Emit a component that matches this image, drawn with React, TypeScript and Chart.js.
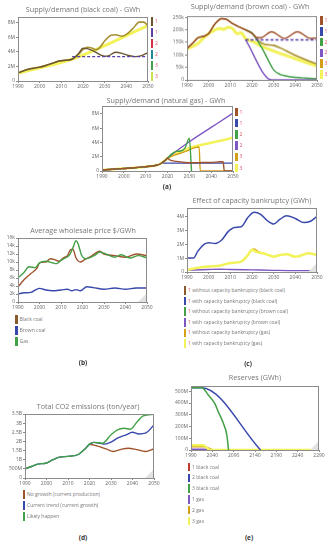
import React, { useEffect, useRef } from "react";
import { Chart, registerables } from "chart.js";
Chart.register(...registerables);

const FONT = "'Open Sans', 'DejaVu Sans', sans-serif";

// ---------------- tick labels ----------------
const yearTicks = [1990, 2000, 2010, 2020, 2030, 2040, 2050];
const reserveYearTicks = [1990, 2040, 2090, 2140, 2190, 2240, 2290];
const blackCoalTicks = [0, 2, 4, 6, 8];
const blackCoalTickLabels = ["0", "2M", "4M", "6M", "8M"];
const brownCoalTicks = [0, 50, 100, 150, 200, 250];
const brownCoalTickLabels = ["0", "50k", "100k", "150k", "200k", "250k"];
const gasTicks = [0, 2, 4, 6, 8];
const gasTickLabels = ["0", "2M", "4M", "6M", "8M"];
const priceTicks = [0, 2, 4, 6, 8, 10, 12, 14, 16];
const priceTickLabels = ["0", "2k", "4k", "6k", "8k", "10k", "12k", "14k", "16k"];
const bankTicks = [0, 1, 2, 3, 4];
const bankTickLabels = ["0", "1M", "2M", "3M", "4M"];
const co2Ticks = [0, 0.5, 1, 1.5, 2, 2.5, 3, 3.5];
const co2TickLabels = ["0", "500M", "1B", "1.5B", "2B", "2.5B", "3B", "3.5B"];
const reserveTicks = [0, 100, 200, 300, 400, 500];
const reserveTickLabels = ["0", "100M", "200M", "300M", "400M", "500M"];

// ---------------- (a) black coal supply/demand, million GWh ----------------
const bcHistYears = [1990, 1993, 1996, 2000, 2003, 2006, 2009, 2012, 2015];
const bcHist = [1.1, 1.45, 1.7, 1.9, 2.15, 2.45, 2.75, 2.85, 3.0];
const bc3Years = [2018, 2020, 2022, 2024, 2026, 2028, 2030, 2033, 2035, 2038, 2040, 2043, 2046, 2048, 2050];
const bc3 = [3.7, 4.3, 4.65, 4.55, 4.3, 4.7, 5.5, 6.3, 6.35, 6.15, 6.4, 7.2, 8.1, 8.1, 7.6];
const bc1Years = [2018, 2020, 2022, 2025, 2028, 2030, 2032, 2035, 2038, 2041, 2044, 2047, 2050];
const bc1 = [3.8, 4.5, 4.45, 4.1, 3.6, 3.4, 3.5, 3.95, 3.8, 3.5, 3.35, 3.5, 3.9];
const bc1bYears = [2015, 2050];
const bc1b = [3.35, 3.35];
const bc3bYears = [1990, 2015, 2050];
const bc3b = [1.1, 3.0, 7.6];

// ---------------- (a) brown coal supply/demand, thousand GWh ----------------
const brHistYears = [1990, 1993, 1995, 1998, 2000, 2003, 2006, 2008, 2011, 2014, 2017, 2020];
const brHist = [125, 150, 168, 175, 185, 225, 245, 243, 225, 212, 200, 186];
const br3Years = [2023, 2026, 2030, 2033, 2036, 2040, 2045, 2050];
const br3 = [155, 142, 138, 128, 115, 98, 80, 64];
const br1Years = [2022, 2024, 2029, 2035, 2041, 2047, 2050];
const br1 = [170, 168, 192, 166, 192, 166, 168];
const br1bYears = [2017, 2050];
const br1b = [160, 160];
const br3bYears = [1990, 1993, 1995, 1998, 2000, 2003, 2005, 2007, 2009, 2011, 2012, 2013, 2015, 2017, 2020, 2025, 2030, 2035, 2040, 2045, 2050];
const br3b = [125, 135, 145, 170, 185, 200, 205, 202, 210, 205, 195, 185, 188, 165, 155, 132, 115, 100, 85, 70, 55];
const br2Years = [2017, 2020, 2023, 2026, 2028, 2030, 2033, 2036, 2040, 2045, 2050];
const br2 = [200, 188, 150, 105, 70, 40, 22, 15, 10, 7, 5];
const br2bYears = [2017, 2029, 2050];
const br2b = [160, 0, 0];

// ---------------- (a) natural gas supply/demand, million GWh ----------------
const gasHistYears = [1990, 1995, 2000, 2005, 2010, 2013, 2015, 2017, 2019, 2020];
const gasHist = [0.15, 0.25, 0.35, 0.45, 0.6, 0.7, 0.8, 1.05, 1.5, 1.8];
const gas2bYears = [2030, 2040, 2050];
const gas2b = [4.1, 6.1, 8.1];
const gas3bYears = [2050];
const gas3b = [4.7];
const gas2Years = [2022, 2024, 2026, 2028, 2030, 2031];
const gas2 = [2.4, 2.75, 2.8, 3.2, 4.6, 0];
const gas3Years = [2024, 2028, 2031, 2033, 2034.5, 2035, 2050];
const gas3 = [2.3, 2.7, 3.1, 3.3, 3.35, 0, 0];
const gas1Years = [2021, 2024, 2028, 2032, 2036, 2040, 2044, 2045.5, 2046, 2050];
const gas1 = [1.55, 1.35, 1.2, 1.15, 1.2, 1.2, 1.3, 1.3, 0, 0];
const gas1bYears = [2018, 2050];
const gas1b = [1.1, 1.1];

// ---------------- (b) average wholesale price, thousand $/GWh ----------------
const gasPriceYears = [1990, 1993, 1995, 1998, 2000, 2003, 2006, 2008, 2010, 2012, 2014, 2015.5, 2017, 2018, 2019.5, 2021.5, 2024, 2026, 2028, 2030, 2035, 2038, 2042, 2046, 2050];
const gasPrice = [6.0, 7.5, 8.8, 8.6, 9.8, 10.2, 9.8, 9.6, 10.4, 11.0, 11.8, 13.5, 15.3, 14.5, 11.8, 10.8, 11.2, 11.8, 12.5, 12.2, 11.2, 11.8, 11.0, 11.6, 11.0];
const bcPriceYears = [1990, 1993, 1996, 1999, 2000, 2003, 2005, 2007, 2009, 2011, 2013, 2014.5, 2015.5, 2017, 2019, 2021, 2024, 2028, 2030, 2035, 2040, 2045, 2050];
const bcPrice = [3.8, 5.7, 7.1, 8.6, 9.8, 10.0, 10.8, 10.6, 10.2, 11.0, 11.6, 13.1, 13.2, 11.0, 10.0, 10.6, 11.4, 12.7, 12.0, 11.6, 11.2, 12.0, 11.6];
const brPriceYears = [1990, 1993, 1996, 1998, 2000, 2003, 2006, 2010, 2013, 2015, 2017, 2019, 2022, 2025, 2030, 2035, 2040, 2045, 2050];
const brPrice = [2.0, 2.3, 2.4, 3.0, 3.4, 3.0, 2.8, 3.0, 3.2, 2.8, 3.1, 2.8, 3.8, 3.6, 3.2, 3.5, 3.2, 3.5, 3.5];

// ---------------- (c) effect of capacity bankruptcy, million GWh ----------------
const bankBcYears = [1990, 1993, 1995, 1998, 2000, 2003, 2006, 2009, 2012, 2015, 2018, 2021, 2024, 2027, 2030, 2033, 2036, 2040, 2044, 2047, 2050];
const bankBcWith = [1.0, 1.0, 1.5, 2.0, 2.1, 2.05, 2.3, 2.9, 3.2, 3.25, 3.9, 4.3, 4.15, 3.7, 3.45, 3.8, 4.05, 3.85, 3.55, 3.65, 4.0];
const bankGasYears = [1990, 1995, 2000, 2005, 2010, 2015, 2018, 2020, 2022, 2025, 2028, 2030, 2033, 2036, 2040, 2043, 2046, 2050];
const bankGasWith = [0.15, 0.3, 0.4, 0.45, 0.65, 0.75, 1.2, 1.6, 1.45, 1.35, 1.2, 1.1, 1.22, 1.27, 1.1, 1.2, 1.35, 1.22];
const bankGasWithoutYears = [2018, 2020, 2021, 2023, 2025];
const bankGasWithout = [1.2, 1.6, 1.65, 1.45, 1.35];
const bankBrYears = [1990, 2000, 2005, 2010, 2020, 2030, 2040, 2050];
const bankBrWith = [0.12, 0.18, 0.2, 0.18, 0.15, 0.12, 0.1, 0.1];

// ---------------- (d) total CO2 emissions, billion ton/year ----------------
const co2HistYears = [1990, 1993, 1996, 2000, 2003, 2006, 2010, 2013, 2015, 2018, 2020, 2022];
const co2Hist = [0.5, 0.63, 0.76, 0.82, 1.0, 1.14, 1.18, 1.22, 1.3, 1.6, 1.85, 1.95];
const co2NoGrowthYears = [2020, 2022, 2025, 2028, 2031, 2035, 2038, 2042, 2046, 2050];
const co2NoGrowth = [1.85, 1.8, 1.7, 1.58, 1.45, 1.58, 1.63, 1.55, 1.45, 1.6];
const co2TrendYears = [2025, 2027, 2030, 2033, 2037, 2040, 2043, 2046, 2050];
const co2Trend = [1.9, 1.85, 1.96, 2.18, 2.36, 2.5, 2.41, 2.45, 2.9];
const co2LikelyYears = [2026, 2030, 2033, 2036, 2039, 2042, 2045, 2050];
const co2Likely = [1.9, 2.36, 2.63, 2.72, 2.67, 3.05, 3.4, 3.48];

// ---------------- (e) reserves, million GWh ----------------
const resBc3Years = [1990, 2015, 2031, 2046, 2054, 2066, 2074, 2078];
const resBc3 = [530, 530, 466, 395, 325, 226, 127, 0];
const resBc2Years = [1990, 2015, 2153];
const resBc2 = [530, 530, 0];
const resGas1Years = [1990, 2022, 2035];
const resGas1 = [6, 6, 0];
const resGas2Years = [1990, 2020, 2042];
const resGas2 = [28, 28, 0];
const resGas3Years = [1990, 2018, 2035, 2290];
const resGas3 = [40, 40, 0, 0];

// ---------------- colours ----------------
const C = {
  brown: "#a0522d",
  darkBrown: "#6b5530",
  blue: "#3949ab",
  green: "#43a047",
  purple: "#7e57c2",
  indigo: "#5b3fa8",
  orange: "#d4a017",
  olive: "#a89030",
  yellow: "#f2f25a",
  red: "#c0392b",
  crimson: "#d0304a",
  teal: "#1f8a9a",
  lime: "#c8e04a",
};

type Line = { xs: number[]; ys: number[]; color: string; width?: number; dash?: number[] };
type PanelDef = {
  left: number; top: number; right: number; bottom: number; yW: number;
  xMin: number; xMax: number; xTicks: number[];
  yMax: number; yTicks: number[]; yLabels: string[];
  lines: Line[]; corner?: boolean;
};

const pts = (xs: number[], ys: number[]) => xs.map((x, i) => ({ x, y: ys[i] }));

function Panel({ def }: { def: PanelDef }) {
  const ref = useRef<HTMLCanvasElement>(null);
  const padTop = 5, padRight = 8, xH = 10;
  const w = def.right - def.left + def.yW + padRight;
  const h = def.bottom - def.top + padTop + xH;
  useEffect(() => {
    const frame = {
      id: "frame",
      afterDatasetsDraw(chart: any) {
        const { ctx, chartArea: a } = chart;
        ctx.save();
        if (def.corner) {
          ctx.fillStyle = "#e2e2e2";
          ctx.beginPath();
          ctx.moveTo(a.right, a.bottom - 9);
          ctx.lineTo(a.right, a.bottom);
          ctx.lineTo(a.right - 9, a.bottom);
          ctx.closePath();
          ctx.fill();
        }
        ctx.strokeStyle = "#8c8c8c";
        ctx.lineWidth = 1;
        ctx.strokeRect(Math.round(a.left) + 0.5, Math.round(a.top) + 0.5, Math.round(a.right - a.left) - 1, Math.round(a.bottom - a.top));
        ctx.restore();
      },
    };
    const tickFont = { family: FONT, size: 5 };
    const chart = new Chart(ref.current!, {
      type: "line",
      data: {
        datasets: def.lines.slice().reverse().map((l) => ({
          data: pts(l.xs, l.ys),
          borderColor: l.color,
          borderWidth: l.width ?? 1.4,
          borderDash: l.dash ?? [],
          pointRadius: 0,
          fill: false,
          cubicInterpolationMode: "monotone" as const,
        })),
      },
      options: {
        responsive: false,
        animation: false,
        events: [],
        layout: { padding: { top: padTop, right: padRight, left: 0, bottom: 0 } },
        plugins: { legend: { display: false }, tooltip: { enabled: false }, title: { display: false } },
        scales: {
          x: {
            type: "linear",
            min: def.xMin,
            max: def.xMax,
            afterFit: (s: any) => { s.height = xH; },
            afterBuildTicks: (s: any) => { s.ticks = def.xTicks.map((v) => ({ value: v })); },
            ticks: { font: tickFont, color: "#666", padding: 1, maxRotation: 0, autoSkip: false, callback: (v: any) => String(v) },
            grid: { drawOnChartArea: false, drawTicks: true, tickLength: 2, color: "#8c8c8c" },
            border: { display: false },
          },
          y: {
            type: "linear",
            min: 0,
            max: def.yMax,
            afterFit: (s: any) => { s.width = def.yW; },
            afterBuildTicks: (s: any) => { s.ticks = def.yTicks.map((v) => ({ value: v })); },
            ticks: { font: tickFont, color: "#666", padding: 1, autoSkip: false, callback: (_v: any, i: number) => def.yLabels[i] },
            grid: { drawOnChartArea: false, drawTicks: true, tickLength: 2, color: "#8c8c8c" },
            border: { display: false },
          },
        },
      } as any,
      plugins: [frame],
    });
    return () => chart.destroy();
  }, []);
  return (
    <canvas
      ref={ref}
      width={w}
      height={h}
      style={{ position: "absolute", left: def.left - def.yW, top: def.top - padTop, width: w, height: h }}
    />
  );
}

const withHist = (hy: number[], hv: number[], ys: number[], vs: number[]) => ({ xs: [...hy, ...ys], ys: [...hv, ...vs] });

const panels: PanelDef[] = [
  {
    left: 18, top: 17, right: 148, bottom: 81, yW: 16, xMin: 1990, xMax: 2050, xTicks: yearTicks,
    yMax: 8.8, yTicks: blackCoalTicks, yLabels: blackCoalTickLabels,
    lines: [
      { xs: bc3bYears, ys: bc3b, color: C.yellow, width: 3 },
      { ...withHist(bcHistYears, bcHist, bc3Years, bc3), color: C.olive, width: 1.6 },
      { ...withHist(bcHistYears, bcHist, bc1Years, bc1), color: C.darkBrown, width: 1.4 },
      { xs: bc1bYears, ys: bc1b, color: C.indigo, width: 1.4, dash: [3, 2] },
    ],
  },
  {
    left: 187, top: 16, right: 317, bottom: 79.5, yW: 18, xMin: 1990, xMax: 2050, xTicks: yearTicks,
    yMax: 255, yTicks: brownCoalTicks, yLabels: brownCoalTickLabels,
    lines: [
      { xs: br3bYears, ys: br3b, color: C.yellow, width: 3 },
      { ...withHist(brHistYears, brHist, br3Years, br3), color: C.olive, width: 1.6 },
      { xs: br2bYears, ys: br2b, color: C.purple, width: 1.4 },
      { xs: br2Years, ys: br2, color: C.green, width: 1.4 },
      { ...withHist(brHistYears, brHist, br1Years, br1), color: C.brown, width: 1.4 },
      { xs: br1bYears, ys: br1b, color: C.indigo, width: 1.4, dash: [3, 2] },
    ],
  },
  {
    left: 102, top: 106, right: 233, bottom: 171, yW: 16, xMin: 1990, xMax: 2050, xTicks: yearTicks,
    yMax: 9.1, yTicks: gasTicks, yLabels: gasTickLabels,
    lines: [
      { ...withHist(gasHistYears, gasHist, gas3bYears, gas3b), color: C.yellow, width: 2.5 },
      { ...withHist(gasHistYears, gasHist, gas3Years, gas3), color: C.orange, width: 1.4 },
      { ...withHist(gasHistYears, gasHist, gas2bYears, gas2b), color: C.purple, width: 1.4 },
      { ...withHist(gasHistYears, gasHist, gas2Years, gas2), color: C.green, width: 1.4 },
      { xs: gas1bYears, ys: gas1b, color: C.blue, width: 1.4 },
      { ...withHist(gasHistYears, gasHist, gas1Years, gas1), color: C.brown, width: 1.4 },
    ],
  },
  {
    left: 18, top: 237.5, right: 147, bottom: 302, yW: 16, xMin: 1990, xMax: 2050, xTicks: yearTicks,
    yMax: 16, yTicks: priceTicks, yLabels: priceTickLabels, corner: true,
    lines: [
      { xs: brPriceYears, ys: brPrice, color: C.blue, width: 1.4 },
      { xs: bcPriceYears, ys: bcPrice, color: C.brown, width: 1.4 },
      { xs: gasPriceYears, ys: gasPrice, color: C.green, width: 1.4 },
    ],
  },
  {
    left: 186.5, top: 207.5, right: 317, bottom: 272.3, yW: 16, xMin: 1990, xMax: 2050, xTicks: yearTicks,
    yMax: 4.6, yTicks: bankTicks, yLabels: bankTickLabels, corner: true,
    lines: [
      { xs: bankBrYears, ys: bankBrWith, color: C.purple, width: 1.4 },
      { xs: bankGasWithoutYears, ys: bankGasWithout, color: C.orange, width: 1.4 },
      { xs: bankGasYears, ys: bankGasWith, color: C.yellow, width: 2.5 },
      { xs: bankBcYears, ys: bankBcWith, color: C.blue, width: 1.5 },
    ],
  },
  {
    left: 25, top: 414, right: 154, bottom: 478.3, yW: 20, xMin: 1990, xMax: 2050, xTicks: yearTicks,
    yMax: 3.5, yTicks: co2Ticks, yLabels: co2TickLabels, corner: true,
    lines: [
      { xs: co2NoGrowthYears, ys: co2NoGrowth, color: C.brown, width: 1.4 },
      { ...withHist(co2HistYears, co2Hist, co2TrendYears, co2Trend), color: C.blue, width: 1.4 },
      { ...withHist(co2HistYears, co2Hist, co2LikelyYears, co2Likely), color: C.green, width: 1.4 },
    ],
  },
  {
    left: 191, top: 386, right: 319, bottom: 450, yW: 20, xMin: 1990, xMax: 2290, xTicks: reserveYearTicks,
    yMax: 545, yTicks: reserveTicks, yLabels: reserveTickLabels, corner: true,
    lines: [
      { xs: resGas1Years, ys: resGas1, color: C.purple, width: 1.4 },
      { xs: resGas2Years, ys: resGas2, color: C.orange, width: 1.4 },
      { xs: resGas3Years, ys: resGas3, color: C.yellow, width: 2.5 },
      { xs: resBc2Years, ys: resBc2, color: C.blue, width: 1.5 },
      { xs: resBc3Years, ys: resBc3, color: C.green, width: 1.5 },
    ],
  },
];

// ---------------- titles, legends, captions ----------------
const titles: [string, number, number][] = [
  ["Supply/demand (black coal) - GWh", 83, 10],
  ["Supply/demand (brown coal) - GWh", 250, 7],
  ["Supply/demand (natural gas) - GWh", 166, 101],
  ["Average wholesale price $/GWh", 83, 231],
  ["Effect of capacity bankruptcy (GWh)", 252, 201],
  ["Total CO2 emissions (ton/year)", 88, 406.5],
  ["Reserves (GWh)", 255, 378],
];
const captions: [string, number, number][] = [
  ["(a)", 167, 187],
  ["(b)", 83, 362.5],
  ["(c)", 248, 364],
  ["(d)", 83, 538],
  ["(e)", 249, 538],
];

type LegendItem = [string, string, string]; // prefix, text, colour
const legendBlackCoal: LegendItem[] = [["1", "", C.darkBrown], ["1", "", C.indigo], ["2", "", C.crimson], ["2", "", C.teal], ["3", "", C.green], ["3", "", C.lime]];
const legendGas: LegendItem[] = [["1", "", C.brown], ["1", "", C.blue], ["2", "", C.green], ["2", "", C.purple], ["3", "", C.orange], ["3", "", C.yellow]];
const legendBrown: LegendItem[] = legendGas;
const legendPrice: LegendItem[] = [["", "Black coal", "#8b5a2b"], ["", "Brown coal", C.blue], ["", "Gas", C.green]];
const legendBank: LegendItem[] = [
  ["1", " without capacity bankruptcy (black coal)", "#8b5a2b"],
  ["1", " with capacity bankruptcy (black coal)", C.blue],
  ["1", " without capacity bankruptcy (brown coal)", C.green],
  ["1", " with capacity bankruptcy (brown coal)", C.purple],
  ["1", " without capacity bankruptcy (gas)", C.orange],
  ["1", " with capacity bankruptcy (gas)", C.yellow],
];
const legendCo2: LegendItem[] = [["", "No growth (current production)", C.brown], ["", "Current trend (current growth)", C.blue], ["", "Likely happen", C.green]];
const legendRes: LegendItem[] = [["", "1 black coal", C.red], ["", "2 black coal", C.blue], ["", "3 black coal", C.green], ["", "1 gas", C.purple], ["", "2 gas", C.orange], ["", "3 gas", C.yellow]];

const legends: { items: LegendItem[]; x: number; y: number; step: number }[] = [
  { items: legendBlackCoal, x: 150.5, y: 17, step: 11 },
  { items: legendBrown, x: 320, y: 16, step: 10.8 },
  { items: legendGas, x: 235, y: 107.5, step: 11.2 },
  { items: legendPrice, x: 15, y: 315, step: 11 },
  { items: legendBank, x: 183.5, y: 286, step: 10.6 },
  { items: legendCo2, x: 22.5, y: 490, step: 11 },
  { items: legendRes, x: 187.5, y: 462.5, step: 10.8 },
];

function Legend({ items, x, y, step }: { items: LegendItem[]; x: number; y: number; step: number }) {
  return (
    <>
      {items.map(([pre, txt, col], i) => (
        <div key={i} style={{ position: "absolute", left: x, top: y + i * step, height: 9, display: "flex", alignItems: "center", whiteSpace: "nowrap" }}>
          <span style={{ display: "inline-block", width: 2.5, height: 8.5, background: col, marginRight: 2 }} />
          <span style={{ fontFamily: FONT, fontSize: 5, color: "#777", lineHeight: "9px" }}>
            {pre && <span style={{ color: "#e0506a" }}>{pre}</span>}
            {txt}
          </span>
        </div>
      ))}
    </>
  );
}

export default function App() {
  return (
    <div style={{ position: "absolute", left: 0, top: 0, width: 335, height: 550, background: "#fff", overflow: "hidden" }}>
      {panels.map((d, i) => <Panel key={i} def={d} />)}
      {titles.map(([t, x, y], i) => (
        <div key={"t" + i} style={{ position: "absolute", left: x, top: y, transform: "translate(-50%, -50%)", whiteSpace: "nowrap", fontFamily: FONT, fontSize: 7.2, color: "#777", lineHeight: 1 }}>{t}</div>
      ))}
      {captions.map(([t, x, y], i) => (
        <div key={"c" + i} style={{ position: "absolute", left: x, top: y, transform: "translate(-50%, -50%)", whiteSpace: "nowrap", fontFamily: FONT, fontSize: 6.5, fontWeight: 700, color: "#333", lineHeight: 1 }}>{t}</div>
      ))}
      {legends.map((l, i) => <Legend key={"l" + i} {...l} />)}
    </div>
  );
}
